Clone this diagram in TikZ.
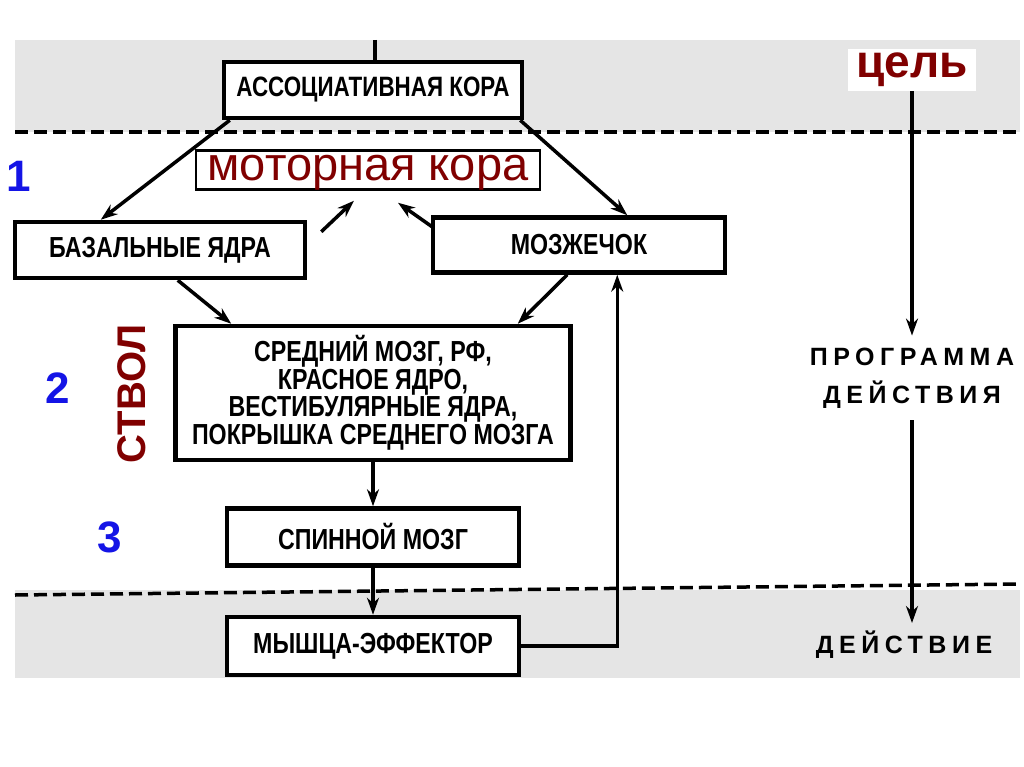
\documentclass[tikz,border=0pt]{standalone}
\usepackage{fontspec}
\setmainfont{Liberation Sans}
\newfontfamily\narrowsf{Liberation Sans}[FakeStretch=0.8]
\newfontfamily\spacedsf{Liberation Sans}[LetterSpace=22]
\usetikzlibrary{arrows.meta}
\definecolor{redcol}{RGB}{128,0,0}
\definecolor{numcol}{RGB}{20,20,230}
\tikzset{
  block/.style={draw,line width=4.5pt,fill=white,inner sep=0pt,align=center,
    font=\narrowsf\bfseries\fontsize{29}{27.5}\selectfont},
  link/.style={line width=3.5pt,-{Stealth[length=17pt,width=12pt]}},
  band/.style={fill=black!10},
  bandline/.style={line width=3.5pt,dash pattern=on 13pt off 6pt},
  num/.style={text=numcol,font=\bfseries\fontsize{44}{44}\selectfont},
}

\begin{document}
\begin{tikzpicture}[x=1pt,y=-1pt]
\useasboundingbox (0,0) rectangle (1024,767);
% shaded levels
\fill[band] (15,40) rectangle (1020,132);
\fill[band] (15,590) rectangle (1020,678);
\draw[bandline] (15,132) -- (1020,132);
\draw[bandline] (15,595) -- (1020,584);
% boxes
\node[block,minimum width=298pt,minimum height=56pt,font=\narrowsf\bfseries\fontsize{28}{28}\selectfont] (assoc) at (373,90) {АССОЦИАТИВНАЯ КОРА};
\node[draw,line width=2.5pt,fill=white,text=redcol,inner sep=0pt,minimum width=344pt,text height=30pt,text depth=9pt,font=\fontsize{47}{47}\selectfont] (motor) at (368,170) {моторная кора};
\node[block,minimum width=290pt,minimum height=56pt] (basal) at (160,250) {БАЗАЛЬНЫЕ ЯДРА};
\node[block,minimum width=292pt,minimum height=55pt] (cereb) at (579,245) {МОЗЖЕЧОК};
\node[block,minimum width=395pt,minimum height=134pt] (stem) at (373,393) {СРЕДНИЙ МОЗГ, РФ,\\КРАСНОЕ ЯДРО,\\ВЕСТИБУЛЯРНЫЕ ЯДРА,\\ПОКРЫШКА СРЕДНЕГО МОЗГА};
\node[block,minimum width=292pt,minimum height=57pt] (spinal) at (373,537) {СПИННОЙ МОЗГ};
\node[block,minimum width=292pt,minimum height=58pt] (muscle) at (373,646) {МЫШЦА-ЭФФЕКТОР};
% levels and captions
\node[num] (n1) at (19,176) {1};
\node[num] (n2) at (58,388) {2};
\node[num] (n3) at (110,537) {3};
\node[text=redcol,font=\bfseries\fontsize{40}{40}\selectfont,rotate=90] (stemlbl) at (132,394) {СТВОЛ};
\node[fill=white,text=redcol,font=\bfseries\fontsize{46}{46}\selectfont,inner xsep=8pt,inner ysep=4pt] (goal) at (912,70) {цель};
\node[align=center,inner sep=12pt,font=\spacedsf\bfseries\fontsize{25}{38}\selectfont] (prog) at (912,378) {ПРОГРАММА\\ДЕЙСТВИЯ};
\node[inner sep=8pt,font=\spacedsf\bfseries\fontsize{25}{25}\selectfont] (act) at (904,645) {ДЕЙСТВИЕ};
% connectors
\coordinate (top) at (375,40);
\draw[line width=3.5pt] (top) -- (top |- assoc.north);
\draw[link] ([xshift=8pt]assoc.south west) -- ([xshift=88pt]basal.north west);
\draw[link] ([xshift=-4pt]assoc.south east) -- ([xshift=-100pt]cereb.north east);
\draw[link] ([shift={(14pt,-12pt)}]basal.north east) -- ([shift={(-14pt,-10pt)}]motor.south);
\draw[link] ([shift={(2pt,-12pt)}]cereb.north west) -- ([shift={(30pt,-12pt)}]motor.south);
\draw[link] ([xshift=165pt]basal.south west) -- ([xshift=58pt]stem.north west);
\draw[link] ([xshift=-160pt]cereb.south east) -- ([xshift=-55pt]stem.north east);
\draw[link] (stem.south) -- (spinal.north);
\draw[link] (spinal.south) -- (muscle.north);
\draw[link] (muscle.east) -| ([xshift=-110pt]cereb.south east);
\draw[link] (goal) -- (prog);
\draw[link] (prog.south) -- (prog.south |- act.north);
\end{tikzpicture}
\end{document}
